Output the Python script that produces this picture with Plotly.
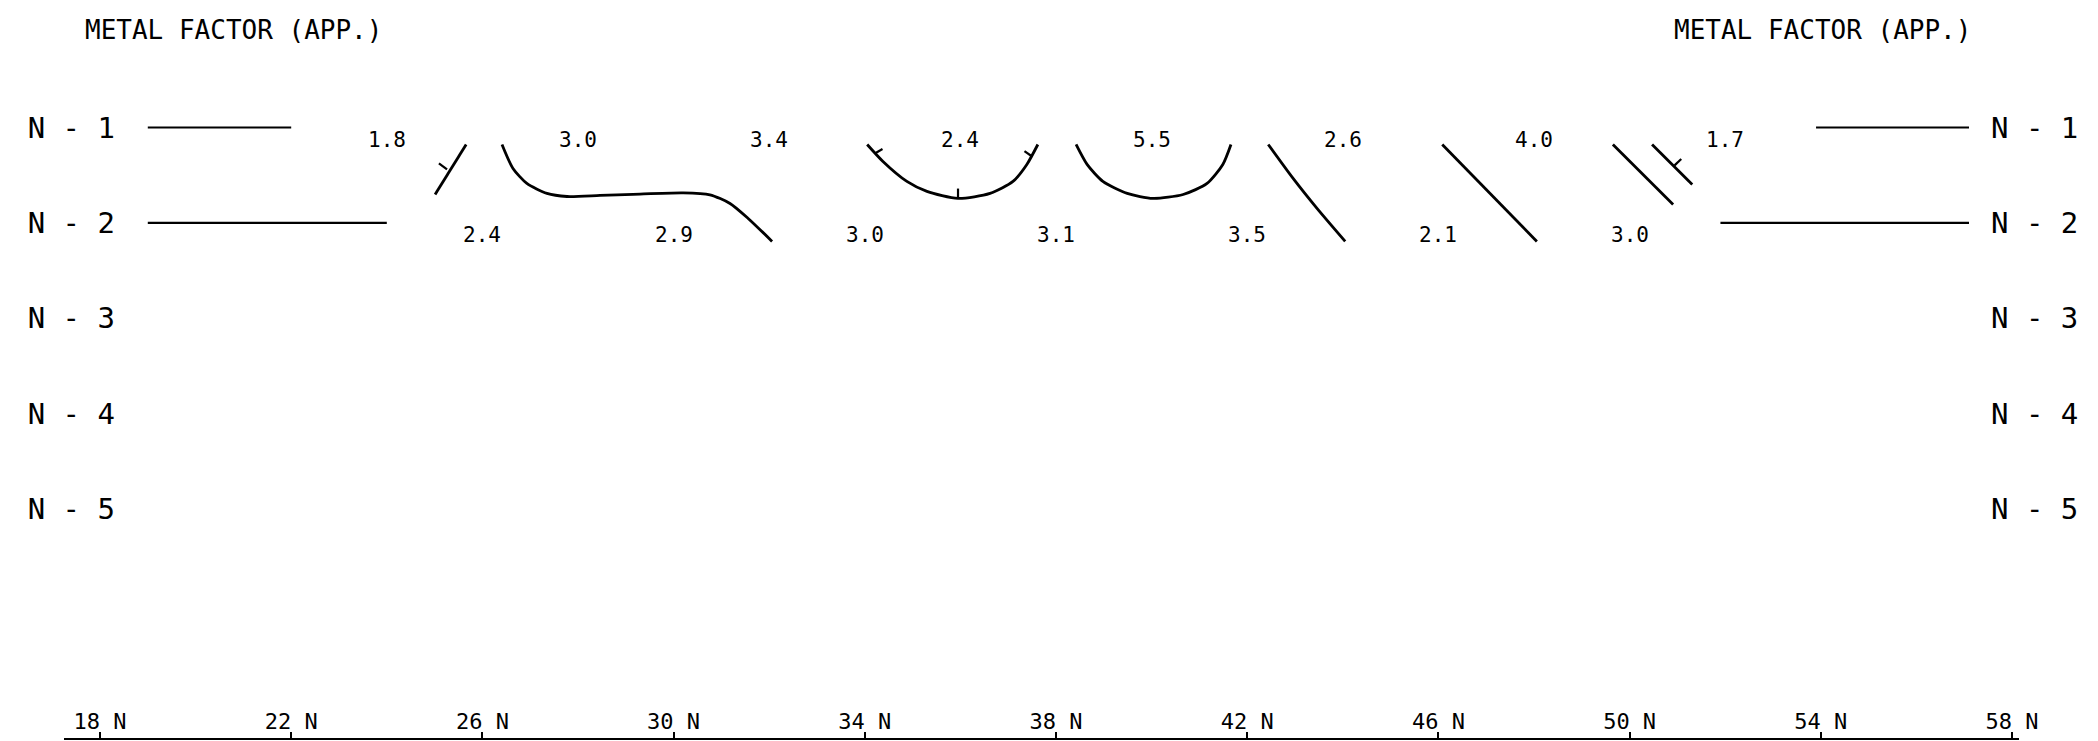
import plotly.graph_objects as go

# ---------------- data ----------------
station_ticks = [18, 22, 26, 30, 34, 38, 42, 46, 50, 54, 58]
station_labels = ["18 N", "22 N", "26 N", "30 N", "34 N", "38 N", "42 N", "46 N", "50 N", "54 N", "58 N"]
n_levels = [1, 2, 3, 4, 5]
n_labels = ["N - 1", "N - 2", "N - 3", "N - 4", "N - 5"]

n1_stations = [24, 28, 32, 36, 40, 44, 48, 52]
n1_values = ["1.8", "3.0", "3.4", "2.4", "5.5", "2.6", "4.0", "1.7"]
n2_stations = [26, 30, 34, 38, 42, 46, 50]
n2_values = ["2.4", "2.9", "3.0", "3.1", "3.5", "2.1", "3.0"]

# horizontal end-of-line bars (station from, station to)
bar_n1_left = [19.0, 22.0]
bar_n2_left = [19.0, 24.0]
bar_n1_right = [53.9, 57.1]
bar_n2_right = [51.9, 57.1]

# contour lines (station, N)
c1_s = [25.66, 25.01]
c1_n = [1.178, 1.702]
c2_s = [26.41, 26.64, 26.93, 27.35, 27.77, 28.46, 29.15, 30.20, 30.76, 31.18, 31.56, 32.06]
c2_n = [1.178, 1.429, 1.586, 1.691, 1.723, 1.712, 1.700, 1.685, 1.705, 1.796, 1.953, 2.194]
c3_s = [34.05, 34.38, 34.88, 35.30, 35.95, 36.62, 37.10, 37.39, 37.62]
c3_n = [1.178, 1.356, 1.565, 1.670, 1.743, 1.691, 1.565, 1.387, 1.178]
c4_s = [38.42, 38.65, 38.98, 39.49, 40.03, 40.66, 41.16, 41.49, 41.66]
c4_n = [1.178, 1.387, 1.565, 1.691, 1.743, 1.702, 1.586, 1.387, 1.178]
c5_s = [42.44, 42.96, 43.46, 44.05]
c5_n = [1.178, 1.534, 1.848, 2.194]
c6_s = [46.08, 48.06]
c6_n = [1.178, 2.194]
c7_s = [49.65, 50.91]
c7_n = [1.178, 1.806]
c8_s = [50.47, 51.31]
c8_n = [1.178, 1.597]

# hatch ticks on low-side of contours (station pairs, N pairs)
hatch_s = [[25.26, 25.09], [34.21, 34.37], [35.95, 35.95], [37.50, 37.34], [50.94, 51.08]]
hatch_n = [[1.440, 1.375], [1.272, 1.225], [1.743, 1.640], [1.304, 1.248], [1.397, 1.330]]

MONO = "DejaVu Sans Mono"
LW = 2.8

fig = go.Figure()

for (xs, n) in [(bar_n1_left, 1), (bar_n2_left, 2), (bar_n1_right, 1), (bar_n2_right, 2)]:
    fig.add_trace(go.Scatter(x=xs, y=[n, n], mode="lines",
                             line=dict(color="black", width=2.2), hoverinfo="skip"))

for xs, ys in [(c1_s, c1_n), (c2_s, c2_n), (c3_s, c3_n), (c4_s, c4_n),
               (c5_s, c5_n), (c6_s, c6_n), (c7_s, c7_n), (c8_s, c8_n)]:
    fig.add_trace(go.Scatter(x=xs, y=ys, mode="lines",
                             line=dict(color="black", width=LW, shape="spline", smoothing=0.7),
                             hoverinfo="skip"))

for xs, ys in zip(hatch_s, hatch_n):
    fig.add_trace(go.Scatter(x=xs, y=ys, mode="lines",
                             line=dict(color="black", width=2.2), hoverinfo="skip"))

# invisible trace on right axis so it is drawn
fig.add_trace(go.Scatter(x=[n1_stations[0]], y=[1], yaxis="y2", mode="markers",
                         marker=dict(opacity=0), hoverinfo="skip"))

value_annotations = []
for st, vals, n in [(n1_stations, n1_values, 1), (n2_stations, n2_values, 2)]:
    for s, v in zip(st, vals):
        value_annotations.append(dict(x=s, y=n, xref="x", yref="y", text=v, showarrow=False,
                                      xanchor="center", yanchor="middle", yshift=-12,
                                      font=dict(family=MONO, size=21, color="black")))

W, H = 2098, 741
ylo, yhi = -0.3365, 7.399

fig.update_layout(
    width=W, height=H,
    margin=dict(l=0, r=0, t=0, b=3),
    paper_bgcolor="white", plot_bgcolor="white",
    showlegend=False,
    xaxis=dict(domain=[64 / W, 2019 / W], range=[17.247, 58.146],
               tickvals=station_ticks, ticktext=station_labels,
               ticklabelposition="inside", ticklabeloverflow="allow",
               ticks="inside", ticklen=6, tickwidth=2,
               tickcolor="black", showline=True, linecolor="black", linewidth=2,
               showgrid=False, zeroline=False, automargin=False,
               tickfont=dict(family=MONO, size=22, color="black")),
    yaxis=dict(range=[yhi, ylo], anchor="free", position=115 / W,
               tickvals=n_levels, ticktext=n_labels, showline=False, showgrid=False,
               zeroline=False, ticks="", automargin=False,
               tickfont=dict(family=MONO, size=29, color="black")),
    yaxis2=dict(range=[yhi, ylo], anchor="free", position=1990 / W, overlaying="y",
                side="right", tickvals=n_levels, ticktext=n_labels, showline=False,
                showgrid=False, zeroline=False, ticks="", automargin=False,
                tickfont=dict(family=MONO, size=29, color="black")),
    annotations=[
        dict(text="METAL FACTOR (APP.)", x=233 / W, y=1 - 30 / 738, xref="paper", yref="paper",
             showarrow=False, xanchor="center", yanchor="middle",
             font=dict(family=MONO, size=26, color="black")),
        dict(text="METAL FACTOR (APP.)", x=1822 / W, y=1 - 30 / 738, xref="paper", yref="paper",
             showarrow=False, xanchor="center", yanchor="middle",
             font=dict(family=MONO, size=26, color="black")),
    ] + value_annotations,
)

fig.write_html("out.html", config={"displayModeBar": False, "staticPlot": True},
               post_script="document.body.style.margin='0';document.body.style.padding='0';")
